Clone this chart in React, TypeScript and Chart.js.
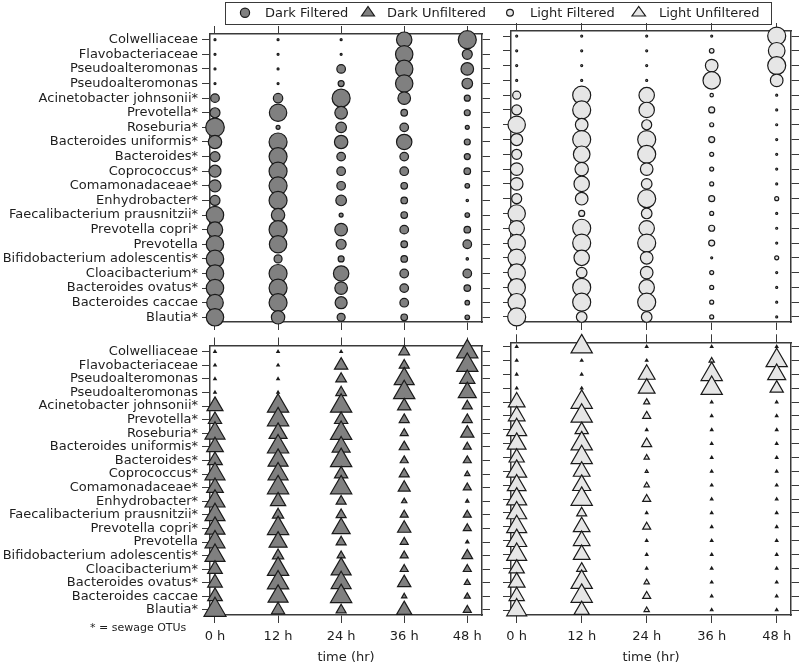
import React, { useEffect, useRef } from "react";
import { Chart, registerables } from "chart.js";

Chart.register(...registerables);

const FONT = "'DejaVu Sans', 'Liberation Sans', sans-serif";
const TEXT = "#1e1e1e";
const AXIS = "#3a3a3a";
const STROKE = "#1a1a1a";
const DARK = "#808080";
const LIGHT = "#e6e6e6";

Chart.defaults.font.family = FONT;
Chart.defaults.font.size = 13;
Chart.defaults.color = TEXT;

// ---- categories ----
const taxa = [
  "Colwelliaceae",
  "Flavobacteriaceae",
  "Pseudoalteromonas",
  "Pseudoalteromonas",
  "Acinetobacter johnsonii*",
  "Prevotella*",
  "Roseburia*",
  "Bacteroides uniformis*",
  "Bacteroides*",
  "Coprococcus*",
  "Comamonadaceae*",
  "Enhydrobacter*",
  "Faecalibacterium prausnitzii*",
  "Prevotella copri*",
  "Prevotella",
  "Bifidobacterium adolescentis*",
  "Cloacibacterium*",
  "Bacteroides ovatus*",
  "Bacteroides caccae",
  "Blautia*",
];
const timePoints = [0, 12, 24, 36, 48];
const timeUnit = "h";
const axisTitle = "time (hr)";
const legendLabels = ["Dark Filtered", "Dark Unfiltered", "Light Filtered", "Light Unfiltered"];
const footnote = "* = sewage OTUs";

// ---- Dark Filtered (circle size, one value per taxon) ----
const darkFiltered0h = [1, 1, 1, 1, 4.3, 5, 9.3, 6.7, 5, 6, 6, 5, 8.7, 7.7, 8.7, 8.7, 8.7, 8.7, 8.3, 8.7];
const darkFiltered12h = [1, 1, 1, 1, 4.7, 8.7, 2, 9, 9, 9, 9, 9, 6.7, 9, 8.7, 4, 9, 9, 9, 6.7];
const darkFiltered24h = [1, 1, 4.3, 3, 9, 6.3, 5.3, 6.7, 4.3, 4.3, 4.3, 5.3, 2, 6.3, 5, 3, 7.7, 6.3, 6, 4];
const darkFiltered36h = [7.7, 8.7, 8.7, 8.7, 6.3, 3.3, 4.3, 7.7, 4.3, 4.3, 3.3, 3.3, 3.3, 4.3, 3.3, 3.3, 4.3, 4.3, 4.3, 3.3];
const darkFiltered48h = [9, 5, 6.3, 5.3, 3, 3, 2, 3, 3, 3.3, 2.3, 1.2, 2.3, 3.3, 4.3, 1.2, 4.3, 3.3, 2.3, 2.3];

// ---- Light Filtered (circle size) ----
const lightFiltered0h = [1, 1, 1, 1, 4, 5, 8.7, 6, 5, 6.3, 6.3, 5, 8.7, 7.7, 8.7, 8.7, 8.7, 8.7, 8.7, 9];
const lightFiltered12h = [1, 1, 1, 1, 9, 9, 6.3, 9, 8.3, 6.7, 7.7, 6.3, 3, 9, 9, 7.7, 5.3, 9, 9, 5.3];
const lightFiltered24h = [1, 1, 1, 1, 7.7, 7.7, 5, 9, 9, 6.3, 5.3, 9, 5.3, 7.7, 9, 6.3, 6.3, 7.7, 9, 5.3];
const lightFiltered36h = [1, 2.3, 6.3, 8.7, 1.7, 3, 2, 3, 2, 2, 2, 3, 2, 3, 3, 1, 2, 2, 2, 2];
const lightFiltered48h = [9, 8.3, 9, 6.3, 1, 1, 1, 1, 1, 1, 1, 2, 1, 1, 1, 2, 1, 1, 1, 1];

// ---- Dark Unfiltered (triangle size) ----
const darkUnfiltered0h = [2.5, 2.5, 2.5, 2.5, 16, 13.3, 20, 16.7, 14.7, 20, 16.7, 20, 20, 20, 20, 20, 14.7, 14.7, 14.7, 22];
const darkUnfiltered12h = [2.5, 2.5, 2.5, 2.5, 21.3, 21.3, 18, 21.3, 20, 20, 21.3, 15.3, 11.3, 21.3, 18, 11.3, 21.3, 21.3, 20, 13.3];
const darkUnfiltered24h = [2.5, 13.3, 10.7, 10.7, 21.3, 13.3, 21.3, 18, 21.3, 13.3, 21.3, 10, 10, 18, 10, 8, 20, 20, 21.3, 10];
const darkUnfiltered36h = [10.7, 10, 20, 21.3, 13.3, 10, 8, 10, 8, 10, 12, 5.3, 8, 13.3, 8, 8, 8, 13.3, 5.3, 15.3];
const darkUnfiltered48h = [21.3, 21.3, 15.3, 18, 10, 10, 13.3, 8, 8, 5.3, 8, 3.3, 8, 8, 3.3, 10.7, 8, 6, 6, 8];

// ---- Light Unfiltered (triangle size) ----
const lightUnfiltered0h = [2.5, 2.5, 2.5, 2.5, 16.7, 16.7, 20, 18.7, 15.3, 20, 18.7, 20, 20, 20, 20, 20, 15.3, 16.7, 15.3, 20];
const lightUnfiltered12h = [21.3, 2.5, 2.5, 2.5, 21.3, 21.3, 13.3, 21.3, 21.3, 16.7, 18, 21.3, 10, 16.7, 16.7, 16.7, 10, 21.3, 21.3, 15.3];
const lightUnfiltered24h = [2.5, 2.5, 16.7, 16.7, 6, 8, 2.5, 10, 5.3, 3, 5.3, 8, 2.5, 8, 2.5, 2.5, 2.5, 5.3, 8, 5.3];
const lightUnfiltered36h = [2.5, 5.3, 21.3, 21.3, 2.5, 2.5, 2.5, 2.5, 2.5, 2.5, 2.5, 2.5, 2.5, 2.5, 2.5, 2.5, 2.5, 2.5, 2.5, 2.5];
const lightUnfiltered48h = [2.5, 21.3, 18, 13.3, 2.5, 2.5, 2.5, 2.5, 2.5, 2.5, 2.5, 2.5, 2.5, 2.5, 2.5, 2.5, 2.5, 2.5, 2.5, 2.5];

const darkFiltered = [darkFiltered0h, darkFiltered12h, darkFiltered24h, darkFiltered36h, darkFiltered48h];
const lightFiltered = [lightFiltered0h, lightFiltered12h, lightFiltered24h, lightFiltered36h, lightFiltered48h];
const darkUnfiltered = [darkUnfiltered0h, darkUnfiltered12h, darkUnfiltered24h, darkUnfiltered36h, darkUnfiltered48h];
const lightUnfiltered = [lightUnfiltered0h, lightUnfiltered12h, lightUnfiltered24h, lightUnfiltered36h, lightUnfiltered48h];

type Panel = {
  box: { left: number; top: number; width: number; height: number };
  area: { left: number; top: number; right: number; bottom: number };
  x: [number, number];
  y: [number, number];
  series: number[][];
  shape: "circle" | "triangle";
  fill: string;
  yLabels: boolean;
  xLabels: boolean;
};

const panels: Panel[] = [
  {
    box: { left: 0, top: 24, width: 500, height: 308 },
    area: { left: 210, top: 34, right: 482, bottom: 322 },
    x: [-0.95, 50.8],
    y: [-0.39, 19.32],
    series: darkFiltered,
    shape: "circle",
    fill: DARK,
    yLabels: true,
    xLabels: false,
  },
  {
    box: { left: 488, top: 22, width: 312, height: 310 },
    area: { left: 511, top: 31, right: 791, bottom: 322 },
    x: [-1.05, 50.64],
    y: [-0.34, 19.34],
    series: lightFiltered,
    shape: "circle",
    fill: LIGHT,
    yLabels: false,
    xLabels: false,
  },
  {
    box: { left: 0, top: 334, width: 500, height: 331 },
    area: { left: 210, top: 345.5, right: 482, bottom: 615 },
    x: [-0.95, 50.8],
    y: [-0.456, 19.37],
    series: darkUnfiltered,
    shape: "triangle",
    fill: DARK,
    yLabels: true,
    xLabels: true,
  },
  {
    box: { left: 488, top: 332, width: 312, height: 333 },
    area: { left: 511, top: 342.3, right: 791, bottom: 615 },
    x: [-1.05, 50.64],
    y: [-0.317, 19.36],
    series: lightUnfiltered,
    shape: "triangle",
    fill: LIGHT,
    yLabels: false,
    xLabels: true,
  },
];

function buildConfig(p: Panel): any {
  const { box, area } = p;
  const data: { x: number; y: number; r: number }[] = [];
  p.series.forEach((vals, t) =>
    vals.forEach((v, i) =>
      data.push({ x: timePoints[t], y: i, r: p.shape === "circle" ? v : v / Math.sqrt(3) })
    )
  );
  const zero = (s: any) => {
    s.paddingLeft = 0;
    s.paddingRight = 0;
    s.paddingTop = 0;
    s.paddingBottom = 0;
  };
  const grid = { drawOnChartArea: false, drawTicks: true, tickLength: 8, color: AXIS, lineWidth: 1 };
  const border = { display: true, color: AXIS, width: 1.5 };
  const yTicks = (s: any) => {
    s.ticks = taxa.map((_, i) => ({ value: i }));
  };
  const xTicks = (s: any) => {
    s.ticks = timePoints.map((v) => ({ value: v }));
  };
  return {
    type: "bubble",
    data: {
      datasets: [
        {
          data,
          backgroundColor: p.fill,
          borderColor: STROKE,
          borderWidth: 1.2,
          pointStyle: p.shape,
          clip: false,
        },
      ],
    },
    options: {
      responsive: false,
      maintainAspectRatio: false,
      animation: false,
      events: [],
      layout: { padding: 0, autoPadding: false },
      plugins: { legend: { display: false }, tooltip: { enabled: false } },
      scales: {
        x: {
          type: "linear",
          position: "bottom",
          min: p.x[0],
          max: p.x[1],
          grid,
          border,
          ticks: {
            display: p.xLabels,
            padding: 6,
            color: TEXT,
            font: { size: 13, family: FONT },
            autoSkip: false,
            maxRotation: 0,
            callback: (v: number) => `${v} ${timeUnit}`,
          },
          title: {
            display: p.xLabels,
            text: axisTitle,
            color: TEXT,
            font: { size: 13, family: FONT },
            padding: { top: 0, bottom: 0 },
          },
          afterBuildTicks: xTicks,
          afterFit: (s: any) => {
            s.height = box.top + box.height - area.bottom;
            zero(s);
          },
        },
        xTop: {
          type: "linear",
          position: "top",
          min: p.x[0],
          max: p.x[1],
          grid,
          border,
          ticks: { display: false },
          afterBuildTicks: xTicks,
          afterFit: (s: any) => {
            s.height = area.top - box.top;
            zero(s);
          },
        },
        y: {
          type: "linear",
          position: "left",
          reverse: true,
          min: p.y[0],
          max: p.y[1],
          grid,
          border,
          ticks: {
            display: p.yLabels,
            padding: 4,
            color: TEXT,
            font: { size: 13, family: FONT },
            autoSkip: false,
            callback: (v: number) => taxa[v] ?? "",
          },
          afterBuildTicks: yTicks,
          afterFit: (s: any) => {
            s.width = area.left - box.left;
            zero(s);
          },
        },
        yRight: {
          type: "linear",
          position: "right",
          reverse: true,
          min: p.y[0],
          max: p.y[1],
          grid,
          border,
          ticks: { display: false },
          afterBuildTicks: yTicks,
          afterFit: (s: any) => {
            s.width = box.left + box.width - area.right;
            zero(s);
          },
        },
      },
    },
  };
}

function PanelChart({ panel }: { panel: Panel }) {
  const ref = useRef<HTMLCanvasElement | null>(null);
  useEffect(() => {
    if (!ref.current) return;
    const chart = new Chart(ref.current, buildConfig(panel));
    return () => chart.destroy();
  }, [panel]);
  const { box } = panel;
  return (
    <canvas
      ref={ref}
      width={box.width}
      height={box.height}
      style={{ position: "absolute", left: box.left, top: box.top, width: box.width, height: box.height }}
    />
  );
}

const textStyle: React.CSSProperties = {
  position: "absolute",
  fontFamily: FONT,
  fontSize: 13,
  lineHeight: "15px",
  color: TEXT,
  whiteSpace: "nowrap",
};

function Legend() {
  const textLefts = [265, 387, 530, 659];
  return (
    <>
      <div
        style={{
          position: "absolute",
          left: 225,
          top: 2,
          width: 547,
          height: 23,
          border: `1.5px solid ${AXIS}`,
          boxSizing: "border-box",
          background: "transparent",
        }}
      />
      <svg style={{ position: "absolute", left: 0, top: 0 }} width={800} height={26}>
        <circle cx={245} cy={12.7} r={4.6} fill={DARK} stroke={STROKE} strokeWidth={1.2} />
        <polygon points="361.5,16 374.5,16 368,6.5" fill={DARK} stroke={STROKE} strokeWidth={1.2} />
        <circle cx={510} cy={12.7} r={3.4} fill={LIGHT} stroke={STROKE} strokeWidth={1.2} />
        <polygon points="632,16 645.5,16 638.7,6.5" fill={LIGHT} stroke={STROKE} strokeWidth={1.2} />
      </svg>
      {legendLabels.map((t, i) => (
        <span key={t + i} style={{ ...textStyle, left: textLefts[i], top: 5 }}>
          {t}
        </span>
      ))}
    </>
  );
}

export default function App() {
  return (
    <div
      style={{
        position: "absolute",
        left: 0,
        top: 0,
        width: 800,
        height: 665,
        background: "#ffffff",
        overflow: "hidden",
      }}
    >
      {panels.map((p, i) => (
        <PanelChart key={i} panel={p} />
      ))}
      <Legend />
      <span style={{ ...textStyle, fontSize: 11, lineHeight: "14px", left: 90, top: 621 }}>{footnote}</span>
    </div>
  );
}
